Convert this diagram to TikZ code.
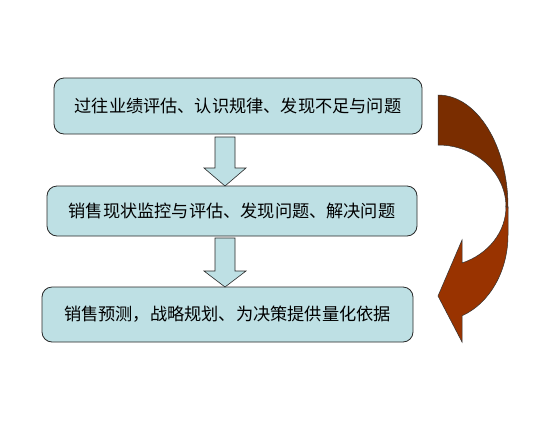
\documentclass[tikz,border=0pt]{standalone}
\usepackage{fontspec}
\newfontfamily\cjk{Noto Sans CJK SC}
\definecolor{boxfill}{RGB}{190,224,228}
\definecolor{boxline}{RGB}{40,40,40}
\definecolor{arrdark}{RGB}{122,45,0}
\definecolor{arrlight}{RGB}{153,51,0}
\tikzset{
  stagebox/.style={draw=boxline, line width=0.8pt, fill=boxfill, rounded corners=10pt, inner sep=0pt, font=\cjk\fontsize{17.2}{19}\selectfont},
  downarrow/.style={draw=boxline, line width=0.6pt, fill=boxfill},
  curvepart/.style={draw=black!80, line width=0.5pt}
}
\begin{document}
\begin{tikzpicture}[x=1pt,y=-1pt]
\useasboundingbox (0,0) rectangle (533,432);
\fill[white] (0,0) rectangle (533,432);
% boxes
\node[stagebox, minimum width=368pt, minimum height=56pt] (b1) at (238,106) {过往业绩评估、认识规律、发现不足与问题};
\node[stagebox, minimum width=370pt, minimum height=50pt] (b2) at (232,211) {销售现状监控与评估、发现问题、解决问题};
\node[stagebox, minimum width=371pt, minimum height=55pt] (b3) at (227.5,314.5) {销售预测，战略规划、为决策提供量化依据};
% block arrows between boxes
\draw[downarrow] (215,137) -- (235,137) -- (235,168) -- (246,168) -- (225,186) -- (204,168) -- (215,168) -- cycle;
\draw[downarrow] (215,238) -- (235,238) -- (235,271) -- (246,271) -- (225,287) -- (204,271) -- (215,271) -- cycle;
% curved arrow: upper band
\draw[curvepart, fill=arrdark] (438,95) arc[start angle=-90, end angle=0, x radius=70, y radius=112]
  -- (507,214) -- (506,207) arc[start angle=0, end angle=-90, x radius=68, y radius=62] -- cycle;
% curved arrow: lower band with head
\draw[curvepart, fill=arrlight] (506,207) -- (508,207) -- (508,235)
  arc[start angle=0, end angle=69.95, x radius=70, y radius=86]
  -- (462,342) -- (438,296) -- (462,240) -- (462,263)
  arc[start angle=69.3, end angle=0, x radius=68, y radius=60] -- cycle;
\end{tikzpicture}
\end{document}
